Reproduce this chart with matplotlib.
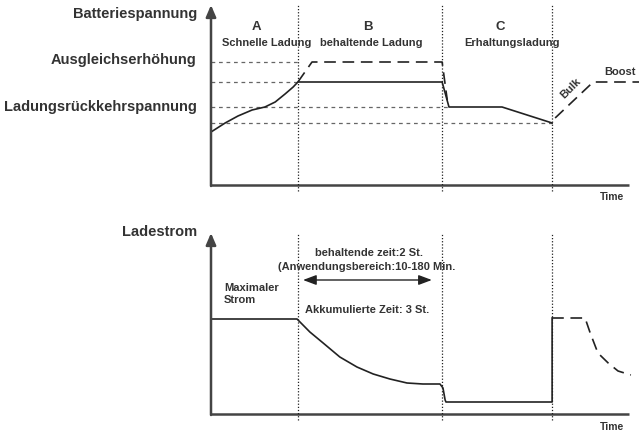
import matplotlib
matplotlib.use('Agg')
import matplotlib.pyplot as plt

plt.rcParams['font.family'] = ['Liberation Sans', 'DejaVu Sans']
plt.rcParams['font.weight'] = 'bold'

# phase boundaries (time units)
phase_edges = [20.3, 54.0, 79.7]
phase_letters = ['A', 'B', 'C']
phase_names = ['Schnelle Ladung', 'behaltende Ladung', 'Erhaltungsladung']
letter_x = [10.7, 36.7, 67.5]
name_x = [12.9, 37.4, 70.3]

# battery voltage (solid) and equalize / boost (dashed)
volt_t = [0, 3.3, 6.3, 9.6, 12.6, 15.0, 17.3, 19.2, 20.3, 54.0, 55.6, 68.0,
          79.7]
volt_v = [5.3, 6.2, 6.9, 7.5, 7.8, 8.3, 9.1, 9.8, 10.3, 10.3, 7.8, 7.8, 6.2]
equal_t = [20.3, 23.6, 54.0, 55.2]
equal_v = [10.3, 12.3, 12.3, 8.5]
boost_t = [80.4, 89.3, 100.0]
boost_v = [6.7, 10.3, 10.3]

# reference levels: value and where the dotted guide ends
ref_levels = [12.3, 10.3, 7.8, 6.2]
ref_ends = [20.3, 20.3, 55.6, 79.7]
level_labels = ['Ausgleichserhöhung', 'Ladungsrückkehrspannung']
level_label_y = [12.5, 7.8]

# charging current
curr_t = [0, 20.1, 23.1, 26.2, 30.1, 34.1, 37.9, 41.8, 45.8, 49.5, 53.5,
          54.2, 54.7, 54.9, 79.7, 79.7]
curr_i = [9.5, 9.5, 8.2, 7.1, 5.7, 4.7, 4.0, 3.5, 3.1, 3.0, 3.0, 2.6, 1.4,
          1.2, 1.2, 9.6]
next_t = [79.7, 87.4, 88.6, 90.4, 92.8, 95.1, 98.1]
next_i = [9.6, 9.6, 8.1, 6.1, 5.1, 4.3, 3.9]

W, H = 639, 432
fig = plt.figure(figsize=(6.39, 4.32), dpi=100)
ax1 = fig.add_axes([211 / W, (H - 185) / H, 428 / W, 185 / H])
ax2 = fig.add_axes([211 / W, (H - 414) / H, 428 / W, 194 / H])
ax1.set_ylim(0, 18.5)
ax2.set_ylim(0, 19.4)

axis_col = '#444444'
txt_col = '#333333'
line_col = '#222222'
for ax, top in [(ax1, 18.0), (ax2, 18.1)]:
    ax.set_xlim(0, 100)
    ax.axis('off')
    ax.plot([0, 97.7], [0, 0], color=axis_col, lw=1.8, clip_on=False,
            solid_capstyle='butt')
    ax.annotate('', xy=(0, top), xytext=(0, -0.1),
                arrowprops=dict(arrowstyle='-|>,head_length=0.7,head_width=0.3',
                                color=axis_col, lw=1.8, shrinkA=0, shrinkB=0),
                annotation_clip=False)
    for x in phase_edges:
        ax.plot([x, x], [-0.6, top], color=line_col, lw=0.9,
                linestyle=(0, (1, 1.5)), clip_on=False)
    ax.text(93.7, -1.25, 'Time', fontsize=7.5, color=txt_col, ha='center',
            va='center')

# top panel
for lv, end in zip(ref_levels, ref_ends):
    ax1.plot([0, end], [lv, lv], color='#666666', lw=0.9,
             linestyle=(0, (3, 3)))
ax1.plot(volt_t, volt_v, color=line_col, lw=1.2)
ax1.plot(equal_t, equal_v, color=line_col, lw=1.2, linestyle=(0, (7, 4)))
ax1.plot(boost_t, boost_v, color=line_col, lw=1.2, linestyle=(0, (7, 4)),
         clip_on=False)
for lx, nx, let, name in zip(letter_x, name_x, phase_letters, phase_names):
    ax1.text(lx, 15.8, let, fontsize=9.5, color=txt_col, ha='center',
             va='center')
    ax1.text(nx, 14.2, name, fontsize=8, color=txt_col, ha='center',
             va='center')
ax1.text(84.0, 9.7, 'Bulk', fontsize=8, color=txt_col, ha='center',
         va='center', rotation=45)
ax1.text(95.6, 11.3, 'Boost', fontsize=8, color=txt_col, ha='center',
         va='center')
ax1.text(-3.3, 17.1, 'Batteriespannung', fontsize=10.5, color=txt_col,
         ha='right', va='center')
for lbl, y in zip(level_labels, level_label_y):
    ax1.text(-3.3, y, lbl, fontsize=10.5, color=txt_col, ha='right',
             va='center')

# bottom panel
ax2.plot(curr_t, curr_i, color=line_col, lw=1.2)
ax2.plot(next_t, next_i, color=line_col, lw=1.2, linestyle=(0, (7, 4)))
ax2.text(-3.3, 18.2, 'Ladestrom', fontsize=10.5, color=txt_col, ha='right',
         va='center')
ax2.text(3.0, 12.0, 'Maximaler\nStrom', fontsize=8, color=txt_col,
         ha='left', va='center', linespacing=1.3)
ax2.text(37.0, 16.1, 'behaltende zeit:2 St.', fontsize=8, color=txt_col,
         ha='center', va='center')
ax2.text(36.3, 14.7, '(Anwendungsbereich:10-180 Min.', fontsize=8,
         color=txt_col, ha='center', va='center')
ax2.annotate('', xy=(21.5, 13.4), xytext=(51.6, 13.4),
             arrowprops=dict(arrowstyle='<|-|>,head_length=0.8,head_width=0.3',
                             color=line_col, lw=1.0, shrinkA=0, shrinkB=0))
ax2.text(22.0, 10.4, 'Akkumulierte Zeit: 3 St.', fontsize=8, color=txt_col,
         ha='left', va='center')

fig.savefig('out.png', dpi=100)
